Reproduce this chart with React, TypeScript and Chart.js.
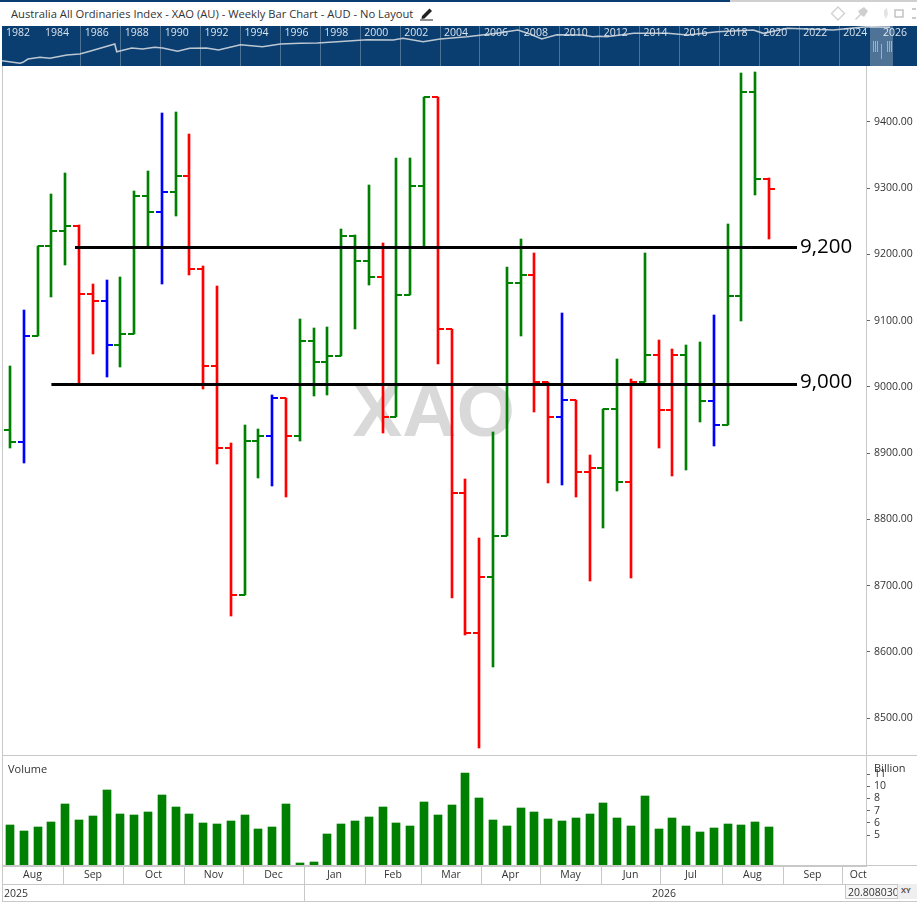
import React, { useEffect, useRef } from "react";
import { Chart, registerables } from "chart.js";

Chart.register(...registerables);

const FONT = '"Open Sans", sans-serif';
const TEXT = "#333333";
const RULE = "#c8c8c8";

const titleText = "Australia All Ordinaries Index - XAO (AU) - Weekly Bar Chart - AUD - No Layout";

// Weekly price bars
const opens = [8935.1,8917,9077,9212.8,9235.5,9243,9140.4,9129.8,9063.4,9080,9288.3,9264.1,9294.3,9318.5,9178.1,9031.7,8908,8686,8918.5,8926,8983.4,8926,9069.4,9037.7,9046.8,9227.9,9190.2,9166,8954.7,9138.9,9303.4,9437.7,9087.6,8840,8628.7,8713.2,8775.1,9157,9169.1,9007.5,8954.7,8980.4,8871.7,8877.7,8966.8,8856.6,9007.5,9048.3,8965.3,9048.3,9004.5,8978.9,8942.6,9137.4,9445.3,9314];
const highs = [9031.7,9116.2,9212.8,9291.3,9323,9244.5,9155.5,9161.5,9166,9295.9,9326,9413.6,9415.1,9381.9,9182.6,9152.5,8915.5,8942.6,8936.6,8987.9,8983.4,9102.6,9089.1,9090.6,9238.5,9229.4,9304.9,9217.3,9345.7,9345.7,9437.7,9437.7,9087.6,8861.1,8772.1,8932.1,9181.1,9223.4,9202.2,9007.5,9111.7,8980.4,8897.4,8966.8,9042.3,9012.1,9202.2,9070.9,9057.4,9063.4,9067.9,9108.7,9246,9474,9475.5,9315.5];
const lows = [8908,8885.3,9077,9135.9,9184.1,9006,9049.8,9015.1,9030.2,9080,9211.3,9155.5,9258.1,9169.1,8997,8883.8,8654.3,8686,8862.6,8850.6,8834,8918.5,8986.4,8987.9,9046.8,9087.6,9154,8930.6,8954.7,9138.9,9212.8,9034.7,8681.5,8625.7,8455,8577.4,8775.1,9077,8962.3,8855.1,8852.1,8834,8707.2,8787.2,8843,8711.7,9007.5,8908,8865.7,8874.7,8947.2,8911,8942.6,9099.6,9289.8,9223.4];
const closes = [8917,9077,9212.8,9235.5,9243,9140.4,9129.8,9063.4,9080,9288.3,9264.1,9294.3,9318.5,9178.1,9031.7,8908,8686,8918.5,8926,8983.4,8926,9069.4,9037.7,9046.8,9227.9,9190.2,9166,8954.7,9138.9,9303.4,9437.7,9087.6,8840,8628.7,8713.2,8775.1,9157,9169.1,9007.5,8954.7,8980.4,8871.7,8877.7,8966.8,8856.6,9007.5,9048.3,8965.3,9048.3,9004.5,8978.9,8942.6,9137.4,9445.3,9314,9298.9];
const barTrend = "gbgggrrbgggbgrrrrggbrggggggrgggrrrrgggrrbrrggrgrrggbgggr";

// Weekly volume in billions
const volumes = [5.69,5.27,5.54,5.92,7.47,6.07,6.39,8.95,6.56,6.48,6.73,8.39,7.18,6.56,5.84,5.76,5.99,6.48,5.4,5.54,7.47,3.48,3.53,5.06,5.76,5.99,6.31,7.18,5.84,5.62,7.66,6.48,7.37,11.15,8.07,6.07,5.62,7.09,6.73,6.15,5.99,6.23,6.56,7.56,6.23,5.62,8.28,5.4,6.23,5.62,5.2,5.47,5.76,5.69,5.92,5.54];
const volumeTickValues = [5, 5.85, 6.85, 8.03, 9.4, 11];
const volumeTickLabels = ["5", "6", "7", "8", "10", "11"];

// Horizontal levels
const levelValues = [9210.5, 9003.8];
const levelLabels = ["9,200", "9,000"];
const levelStarts = [4.71, 3];
const levelEnd = 57.03;

// Time axis, in week positions
const monthNames = ["Aug","Sep","Oct","Nov","Dec","Jan","Feb","Mar","Apr","May","Jun","Jul","Aug","Sep","Oct"];
const monthEdges = [-0.58,3.84,8.19,12.61,16.88,21.3,25.72,29.78,34.13,38.41,42.83,47.1,51.59,56.01,60.29,62.65];

// Overview navigator
const overviewYears = [1982.05,1982.95,1983.1,1983.35,1983.95,1984.45,1985.3,1985.95,1986.45,1987.7,1987.8,1988.55,1989.1,1989.7,1990.1,1990.85,1991.45,1992.3,1992.9,1994,1995.1,1996,1997,1997.85,1998.85,2000.35,2001.65,2002.15,2003.15,2004,2005.35,2006.85,2007.9,2008.5,2009.1,2009.85,2011.15,2011.65,2012,2012.35,2013.7,2015.4,2016.4,2017.9,2019.7,2020.2,2021.4,2023.7,2025.4,2026.55];
const overviewValues = [5.3,2.7,3.7,7,8.7,7.7,11,12,14.7,22,14.3,18,17,18.7,18,14.7,17.7,18,16,21.3,19.3,22,22.7,23,24.3,26.3,26,27.7,24.3,27,29.3,32.7,36,32,27,31.3,31,29.3,29.7,29.3,32.7,32.7,31,34.3,36,32.7,37.7,36,39.3,38.7];

const trendColor = (c: string) => (c === "g" ? "#008000" : c === "b" ? "#0000ff" : "#ff0000");
const barColors = barTrend.split("").map(trendColor);

const X_MIN = -0.507;
const X_MAX = 62.03;

const snapPlugin = {
  id: "snap",
  beforeDatasetsDraw(chart: any) {
    chart.data.datasets.forEach((ds: any, i: number) => {
      const meta = chart.getDatasetMeta(i);
      meta.data.forEach((el: any) => {
        if (meta.type === "bar") {
          el.x = Math.round(el.x);
          el.y = Math.round(el.y);
          el.base = Math.round(el.base);
        } else if (ds.isLevel) {
          el.y = Math.floor(el.y) + 0.5;
        } else {
          el.x = Math.round(el.x);
          el.y = Math.round(el.y);
        }
      });
    });
  },
};

const levelLabelPlugin = {
  id: "levelLabels",
  afterDatasetsDraw(chart: any) {
    const { ctx, scales } = chart;
    ctx.save();
    ctx.font = `20.5px ${FONT}`;
    ctx.fillStyle = "#000";
    ctx.textBaseline = "middle";
    ctx.textAlign = "left";
    levelValues.forEach((v, i) => {
      const lift = i === 0 ? 0 : 2;
      ctx.fillText(levelLabels[i], scales.x.getPixelForValue(levelEnd) + 3, scales.y.getPixelForValue(v) - lift);
    });
    ctx.restore();
  },
};

const monthRulePlugin = {
  id: "monthRules",
  afterDraw(chart: any) {
    const { ctx, scales, chartArea } = chart;
    ctx.save();
    ctx.strokeStyle = RULE;
    ctx.lineWidth = 1;
    monthEdges.slice(1, -1).forEach((e) => {
      const x = Math.round(scales.x.getPixelForValue(e)) + 0.5;
      ctx.beginPath();
      ctx.moveTo(x, chartArea.bottom);
      ctx.lineTo(x, chartArea.bottom + 18);
      ctx.stroke();
    });
    ctx.restore();
  },
};

const yearLabelPlugin = {
  id: "yearLabels",
  afterDatasetsDraw(chart: any) {
    const { ctx, scales } = chart;
    ctx.save();
    ctx.font = `10.5px ${FONT}`;
    ctx.fillStyle = "#dbe3ec";
    ctx.textBaseline = "middle";
    ctx.textAlign = "left";
    for (let y = 1982; y <= 2026; y += 2) {
      const x = Math.max(scales.x.getPixelForValue(y), 0);
      ctx.fillText(String(y), x + 4, 7.5);
    }
    ctx.restore();
  },
};

const noPadY = (s: any) => {
  s.width = 51;
  s.paddingTop = 0;
  s.paddingBottom = 0;
};

const Txt = ({ x, y, s, size = 11, color = TEXT, anchor = "left" }: any) => (
  <div
    style={{
      position: "absolute",
      left: x,
      top: y,
      transform: anchor === "center" ? "translate(-50%,-50%)" : "translateY(-50%)",
      fontFamily: FONT,
      fontSize: size,
      color,
      whiteSpace: "nowrap",
      lineHeight: 1,
    }}
  >
    {s}
  </div>
);

const Rule = ({ x, y, w, h, c = RULE }: any) => (
  <div style={{ position: "absolute", left: x, top: y, width: w, height: h, background: c }} />
);

export default function App() {
  const priceRef = useRef<HTMLCanvasElement>(null);
  const volumeRef = useRef<HTMLCanvasElement>(null);
  const overviewRef = useRef<HTMLCanvasElement>(null);

  useEffect(() => {
    document.documentElement.style.overflow = "hidden";

    const price = new Chart(priceRef.current!, {
      type: "bar",
      data: {
        datasets: [
          ...levelValues.map((v, i) => ({
            type: "line",
            isLevel: true,
            data: [{ x: levelStarts[i], y: v }, { x: levelEnd, y: v }],
            borderColor: "#000",
            borderWidth: 3,
            pointRadius: 0,
            order: 0,
          })),
          {
            type: "line",
            showLine: false,
            data: opens.map((v, i) => ({ x: i, y: v })),
            pointStyle: "dash",
            pointRadius: 6,
            pointBorderWidth: 2,
            pointRotation: 180,
            pointBorderColor: barColors,
            pointBackgroundColor: barColors,
            order: 1,
          },
          {
            type: "line",
            showLine: false,
            data: closes.map((v, i) => ({ x: i, y: v })),
            pointStyle: "dash",
            pointRadius: 6,
            pointBorderWidth: 2,
            pointRotation: 0,
            pointBorderColor: barColors,
            pointBackgroundColor: barColors,
            order: 1,
          },
          {
            type: "bar",
            data: lows.map((l, i) => ({ x: i, y: [l, highs[i]] })),
            backgroundColor: barColors,
            barThickness: 2,
            order: 2,
          },
        ],
      } as any,
      options: {
        animation: false,
        responsive: false,
        devicePixelRatio: 1,
        layout: { autoPadding: false, padding: { left: 3, right: 0, top: 0, bottom: 0 } },
        plugins: { legend: { display: false }, tooltip: { enabled: false } },
        scales: {
          x: {
            type: "linear",
            offset: false,
            min: X_MIN,
            max: X_MAX,
            afterFit: (s: any) => {
              s.height = 0;
              s.paddingLeft = 0;
              s.paddingRight = 0;
            },
            ticks: { display: false },
            grid: { display: false, offset: false, drawTicks: false },
            border: { display: false },
          },
          y: {
            position: "right",
            min: 8444.5,
            max: 9484.5,
            afterFit: noPadY,
            afterBuildTicks: (s: any) => {
              s.ticks = s.ticks.filter((t: any) => t.value % 100 === 0);
            },
            ticks: {
              stepSize: 100,
              padding: 4,
              autoSkip: false,
              color: TEXT,
              font: { family: FONT, size: 10.5 },
              callback: (v: any) => Number(v).toFixed(2),
            },
            grid: { drawOnChartArea: false, tickLength: 4, tickColor: "#666" },
            border: { color: RULE },
          },
        },
      } as any,
      plugins: [snapPlugin, levelLabelPlugin],
    });

    const volume = new Chart(volumeRef.current!, {
      type: "bar",
      data: {
        datasets: [
          {
            data: volumes.map((v, i) => ({ x: i, y: v })),
            backgroundColor: "#008000",
            barThickness: 8,
          },
        ],
      } as any,
      options: {
        animation: false,
        responsive: false,
        devicePixelRatio: 1,
        layout: { autoPadding: false, padding: { left: 3, right: 0, top: 0, bottom: 0 } },
        plugins: { legend: { display: false }, tooltip: { enabled: false } },
        scales: {
          x: {
            type: "linear",
            offset: false,
            min: X_MIN,
            max: X_MAX,
            afterFit: (s: any) => {
              s.height = 36;
              s.paddingLeft = 0;
              s.paddingRight = 0;
            },
            afterBuildTicks: (s: any) => {
              s.ticks = monthNames.map((_, i) => ({ value: (monthEdges[i] + monthEdges[i + 1]) / 2 }));
            },
            ticks: {
              autoSkip: false,
              maxRotation: 0,
              padding: 3,
              color: TEXT,
              font: { family: FONT, size: 10.5 },
              callback: (_: any, i: number) => monthNames[i],
            },
            grid: { display: false, offset: false, drawTicks: false },
            border: { color: RULE },
          },
          y: {
            type: "logarithmic",
            position: "right",
            min: 3.35,
            max: 14.07,
            afterFit: noPadY,
            afterBuildTicks: (s: any) => {
              s.ticks = volumeTickValues.map((value) => ({ value }));
            },
            ticks: {
              padding: 4,
              autoSkip: false,
              color: TEXT,
              font: { family: FONT, size: 10.5 },
              callback: (_: any, i: number) => volumeTickLabels[i],
            },
            grid: { drawOnChartArea: false, tickLength: 4, tickColor: "#666" },
            border: { color: RULE },
          },
        },
      } as any,
      plugins: [snapPlugin, monthRulePlugin],
    });

    const overview = new Chart(overviewRef.current!, {
      type: "line",
      data: {
        datasets: [
          {
            data: overviewYears.map((x, i) => ({ x, y: overviewValues[i] })),
            borderColor: "#bcc7d2",
            borderWidth: 1.6,
            pointRadius: 0,
            tension: 0,
          },
        ],
      },
      options: {
        animation: false,
        responsive: false,
        devicePixelRatio: 1,
        layout: { autoPadding: false, padding: 0 },
        plugins: { legend: { display: false }, tooltip: { enabled: false } },
        scales: {
          x: {
            type: "linear",
            min: 1982.05,
            max: 2027.9,
            afterFit: (s: any) => {
              s.height = 0;
            },
            afterBuildTicks: (s: any) => {
              s.ticks = s.ticks.filter((t: any) => t.value % 2 === 0);
            },
            ticks: { display: false, stepSize: 2, autoSkip: false },
            grid: { color: "rgba(255,255,255,0.28)", drawTicks: false },
            border: { display: false },
          },
          y: { display: false, min: 0, max: 40 },
        },
      } as any,
      plugins: [yearLabelPlugin],
    });

    return () => {
      price.destroy();
      volume.destroy();
      overview.destroy();
    };
  }, []);

  const canvasStyle = (left: number, top: number): React.CSSProperties => ({
    position: "absolute",
    left,
    top,
    display: "block",
  });

  return (
    <div style={{ position: "absolute", left: 0, top: 0, width: 917, height: 905, background: "#fff", overflow: "hidden" }}>
      <Rule x={0} y={0} w={730} h={1.5} c="#0a3d70" />
      <Rule x={730} y={0} w={187} h={1.5} c="#d0d0d0" />
      <Txt x={11} y={14} s={titleText} size={11.2} />
      <svg style={{ position: "absolute", left: 419, top: 6 }} width={16} height={15} viewBox="0 0 16 15">
        <path d="M3 10 L10.5 2.5 L13 5 L5.5 12.5 L2.5 13 Z" fill="#222" />
        <rect x={1} y={13.5} width={13} height={1} fill="#222" />
      </svg>
      <svg style={{ position: "absolute", left: 828, top: 4 }} width={89} height={20} viewBox="0 0 89 20">
        <path d="M10 3 L16.5 9.5 L10 16 L3.5 9.5 Z" fill="none" stroke="#cfcfcf" strokeWidth={1.3} />
        <path d="M27 15 L32 10 L30 7 L36 3 L40 7 L36 13 L33 11 L28 16 Z" fill="#cfcfcf" />
        <path d="M56 6 L59 4 L60 10 L58 15 L56 11 Z" fill="#e4e4e4" />
        <rect x={67} y={6} width={8} height={7} fill="none" stroke="#bbb" strokeWidth={1.3} />
        <path d="M84 5 h4 M84 14 h4" stroke="#bbb" strokeWidth={1.3} />
      </svg>

      <div style={{ position: "absolute", left: 2, top: 26, width: 915, height: 40, background: "#0a3d70" }} />
      <canvas ref={overviewRef} width={915} height={40} style={canvasStyle(2, 26)} />
      <div style={{ position: "absolute", left: 870, top: 26, width: 23, height: 40, background: "rgba(255,255,255,0.28)" }} />
      {[874, 876, 878, 888, 890, 892].map((x) => (
        <Rule key={x} x={x - 1} y={41} w={1} h={11} c="#9fb0c2" />
      ))}
      <Rule x={881} y={44} w={1} h={15} c="#9fb0c2" />

      <Rule x={2} y={66} w={1} h={835} />

      <div
        style={{
          position: "absolute",
          left: 433.5,
          top: 410,
          transform: "translate(-50%,-50%)",
          fontFamily: '"Liberation Sans", sans-serif',
          fontWeight: 700,
          fontSize: 75,
          lineHeight: 1,
          color: "#d9d9d9",
          whiteSpace: "nowrap",
        }}
      >
        XAO
      </div>
      <canvas ref={priceRef} width={917} height={689} style={canvasStyle(0, 66)} />

      <canvas ref={volumeRef} width={917} height={147} style={canvasStyle(0, 755)} />
      <Rule x={2} y={755} w={915} h={1} />
      <Rule x={2} y={865} w={915} h={1} />
      <Rule x={2} y={884} w={915} h={1} />
      <Rule x={2} y={901} w={915} h={1} />
      <Rule x={304} y={884} w={1} h={17} />
      <Txt x={8} y={768} s="Volume" size={11} />
      <Txt x={874} y={767} s="Billion" size={11} />
      <Txt x={4} y={893} s="2025" size={10.5} />
      <Txt x={664} y={893} s="2026" size={10.5} anchor="center" />

      <div
        style={{
          position: "absolute",
          left: 845,
          top: 884,
          width: 53,
          height: 15,
          boxSizing: "border-box",
          border: `1px solid ${RULE}`,
          background: "#f7f7f7",
          overflow: "hidden",
          fontFamily: FONT,
          fontSize: 10.5,
          color: TEXT,
          lineHeight: "14px",
          paddingLeft: 2,
          whiteSpace: "nowrap",
        }}
      >
        20.808030
      </div>
      <div
        style={{
          position: "absolute",
          left: 898,
          top: 884,
          width: 19,
          height: 15,
          boxSizing: "border-box",
          background: "#efefef",
          fontFamily: FONT,
          fontSize: 7.5,
          fontWeight: 700,
          color: "#555",
          lineHeight: "13px",
          paddingLeft: 3,
        }}
      >
        XY
      </div>
    </div>
  );
}
